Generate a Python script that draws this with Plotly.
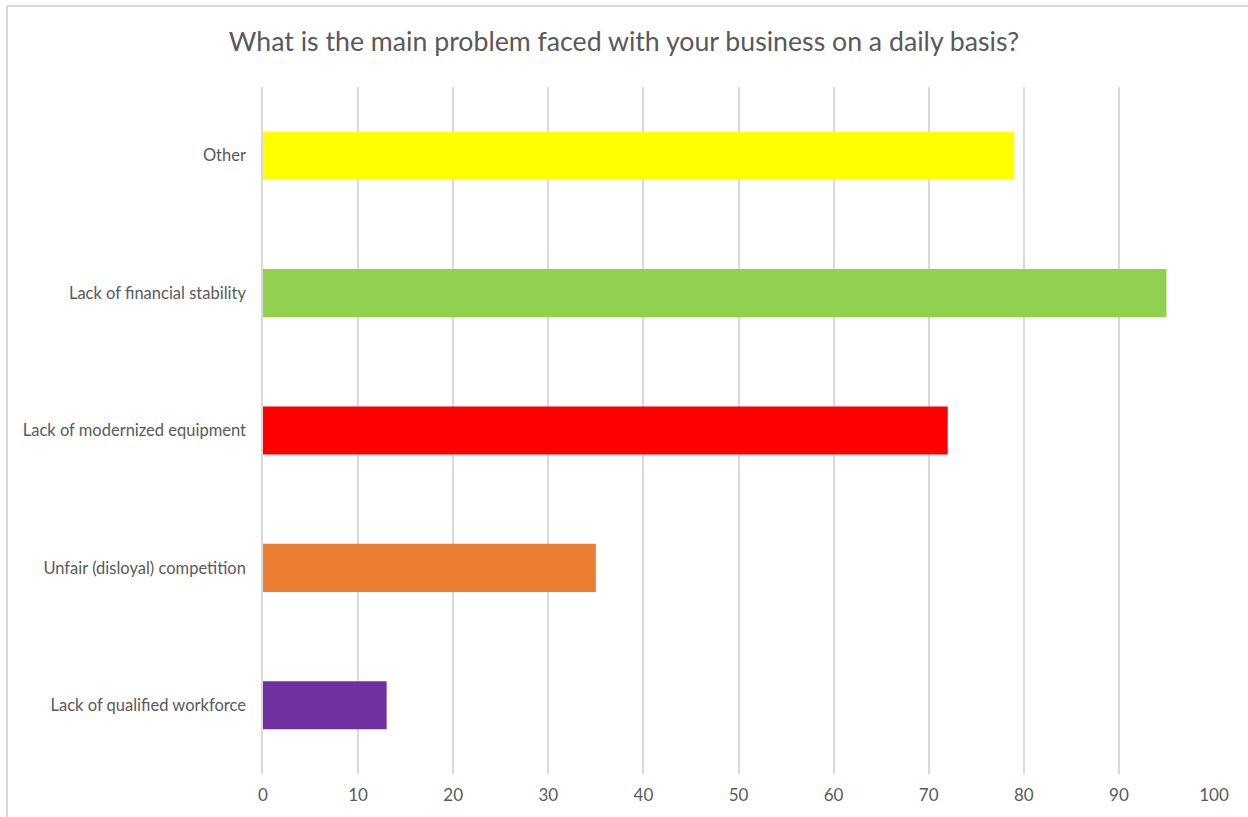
import plotly.graph_objects as go

categories = ["Lack of qualified workforce", "Unfair (disloyal) competition",
              "Lack of modernized equipment", "Lack of financial stability", "Other"]
values = [13, 35, 72, 95, 79]
colors = ["#7030A0", "#ED7D31", "#FF0000", "#92D050", "#FFFF00"]
x_ticks = [0, 10, 20, 30, 40, 50, 60, 70, 80, 90, 100]

W, H = 1248, 817
L, R, T, B = 263, 34, 87, 43
pw, ph = W - L - R, H - T - B

fig = go.Figure(go.Bar(
    y=categories, x=values, orientation="h",
    marker=dict(color=colors, line=dict(width=0)),
    width=0.35,
))

def px2x(p):
    return (p - L) / pw

def py2y(p):
    return (H - B - p) / ph

fig.update_layout(
    width=W, height=H,
    margin=dict(l=L, r=R, t=T, b=B),
    paper_bgcolor="white", plot_bgcolor="white",
    font=dict(family="Lato, Open Sans, sans-serif", color="#595959", size=16),
    title=dict(text="What is the main problem faced with your business on a daily basis?",
               x=0.5, xanchor="center", y=1 - 42 / H, yanchor="middle",
               font=dict(size=26.7, color="#595959")),
    showlegend=False,
    xaxis=dict(range=[0, 100], tickvals=x_ticks, showgrid=True, gridcolor="#d9d9d9",
               gridwidth=1.5, zeroline=False, showline=False,
               ticks="outside", ticklen=6, tickcolor="rgba(0,0,0,0)",
               tickfont=dict(size=17, color="#595959")),
    yaxis=dict(categoryorder="array", categoryarray=categories, showgrid=False,
               zeroline=False, showline=True, linecolor="#d9d9d9", linewidth=1.5,
               ticks="", ticklabelstandoff=12,
               tickfont=dict(size=16.5, color="#595959"), range=[-0.5, 4.5]),
    shapes=[
        dict(type="line", xref="paper", yref="paper", x0=px2x(7), x1=px2x(7),
             y0=py2y(900), y1=py2y(6), line=dict(color="#d9d9d9", width=2)),
        dict(type="line", xref="paper", yref="paper", x0=px2x(7), x1=px2x(1300),
             y0=py2y(6), y1=py2y(6), line=dict(color="#d9d9d9", width=2)),
    ],
)

fig.write_html("out.html")
